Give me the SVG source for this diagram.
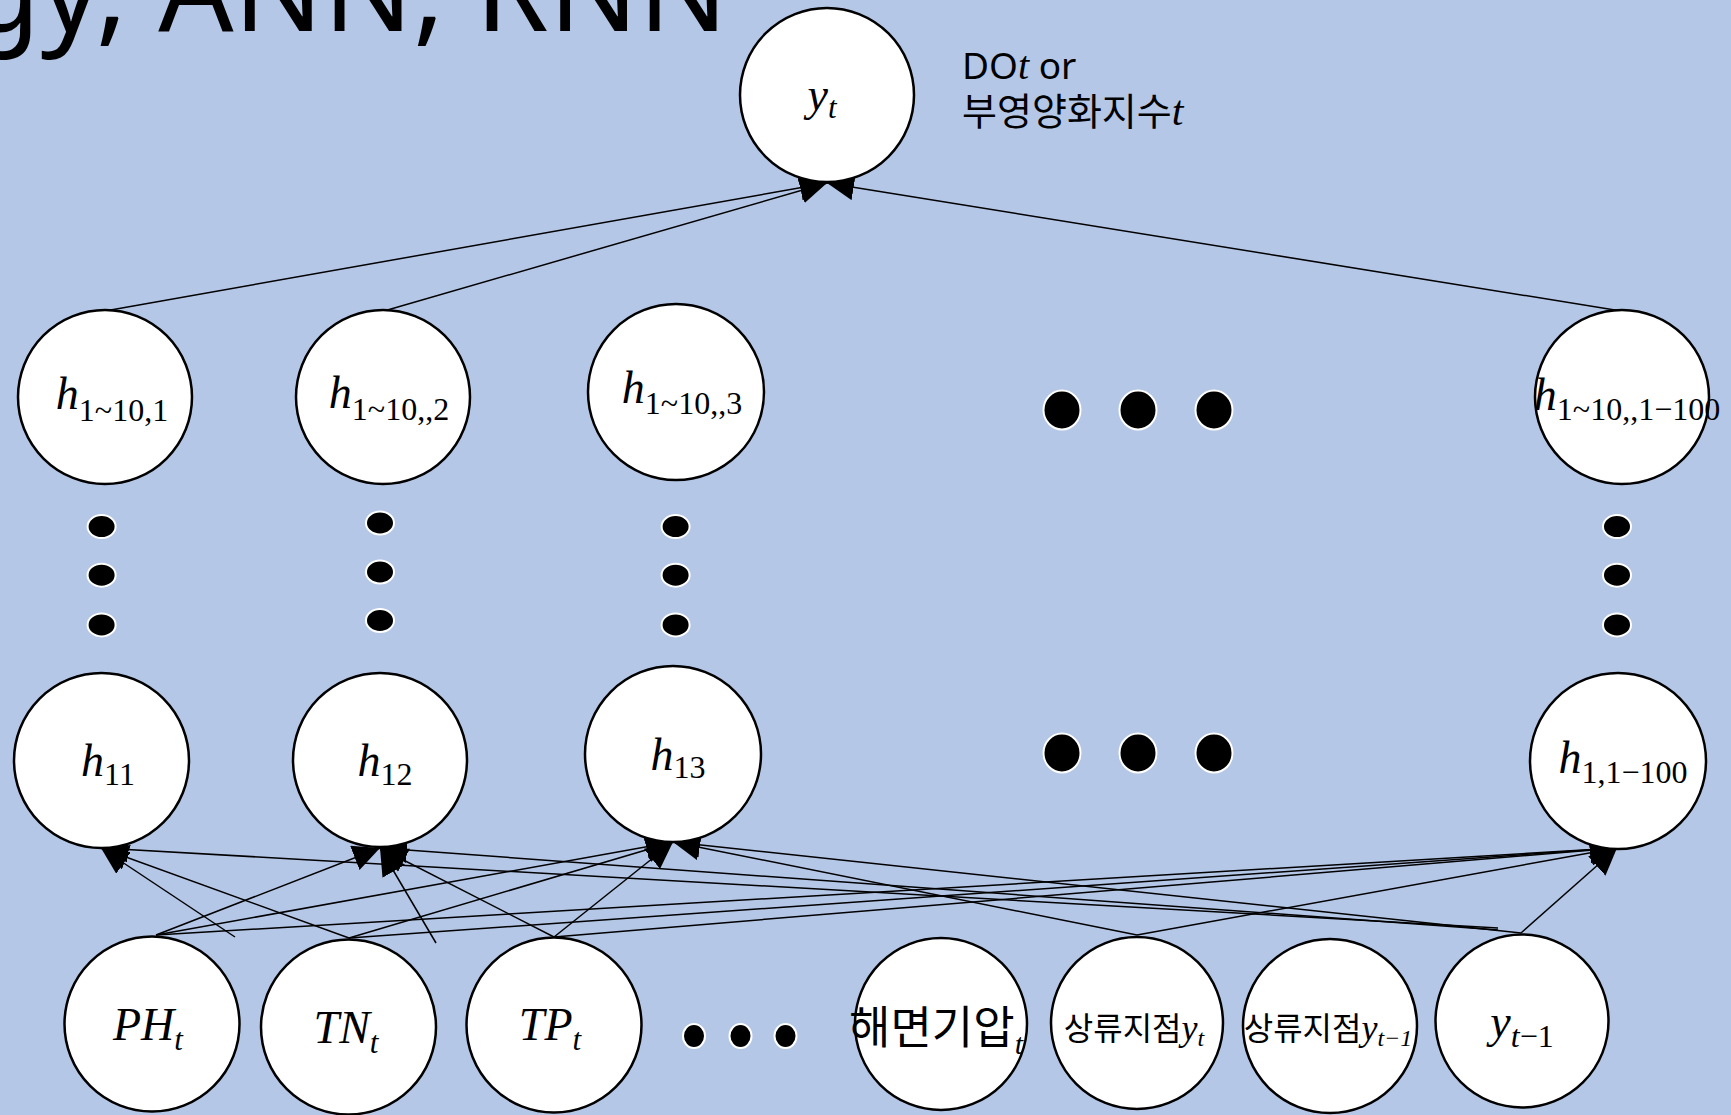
<svg xmlns="http://www.w3.org/2000/svg" width="1731" height="1115" viewBox="0 0 1731 1115">
<defs>
<style>
.node{fill:#fff;stroke:#000;stroke-width:2.5}
.dot{fill:#000;stroke:#fff;stroke-width:2}
.conn line{stroke:#000;stroke-width:1.5;fill:none}
.m{font-family:"Liberation Serif","DejaVu Serif",serif;font-style:italic;font-size:46px;fill:#000}
.sub{font-style:normal;font-size:32px}
.subi{font-size:31px}
.kr{font-family:"Noto Sans CJK KR","Noto Sans",sans-serif;fill:#000}
</style>
<marker id="ah" markerUnits="userSpaceOnUse" markerWidth="27" markerHeight="26" viewBox="0 0 27 26" refX="27" refY="13" orient="auto">
<path d="M0,0 L27,13 L0,26 z" fill="#000"/>
</marker>
</defs>
<rect width="1731" height="1115" fill="#B4C7E7"/>
<text x="728" y="31" text-anchor="end" font-family="Noto Sans, sans-serif" font-size="118" fill="#000">gy, ANN, RNN</text>

<g id="connectors" class="conn">
<line x1="105" y1="311" x2="827" y2="183" marker-end="url(#ah)"/>
<line x1="384" y1="311" x2="827" y2="183" marker-end="url(#ah)"/>
<line x1="1621" y1="311" x2="827" y2="183" marker-end="url(#ah)"/>
<line x1="156" y1="935" x2="380" y2="848" marker-end="url(#ah)"/>
<line x1="156" y1="935" x2="673" y2="842" marker-end="url(#ah)"/>
<line x1="156" y1="935" x2="1617" y2="848" marker-end="url(#ah)"/>
<line x1="349" y1="938" x2="101" y2="848" marker-end="url(#ah)"/>
<line x1="349" y1="938" x2="673" y2="842" marker-end="url(#ah)"/>
<line x1="349" y1="938" x2="1617" y2="848" marker-end="url(#ah)"/>
<line x1="554" y1="937" x2="380" y2="848" marker-end="url(#ah)"/>
<line x1="554" y1="937" x2="673" y2="842" marker-end="url(#ah)"/>
<line x1="554" y1="937" x2="1617" y2="848" marker-end="url(#ah)"/>
<line x1="1137" y1="935" x2="673" y2="842" marker-end="url(#ah)"/>
<line x1="1137" y1="935" x2="1617" y2="848" marker-end="url(#ah)"/>
<line x1="1521" y1="933" x2="673" y2="842" marker-end="url(#ah)"/>
<line x1="1521" y1="933" x2="1617" y2="848" marker-end="url(#ah)"/>
<line x1="1498" y1="928" x2="101" y2="848" marker-end="url(#ah)"/>
<line x1="1498" y1="930" x2="380" y2="848" marker-end="url(#ah)"/>
<line x1="235" y1="937" x2="101" y2="848" marker-end="url(#ah)"/>
<line x1="436" y1="943" x2="380" y2="848" marker-end="url(#ah)"/>
</g>

<g id="out">
<circle class="node" cx="827" cy="95" r="87"/>
<text class="m" x="822" y="110" text-anchor="middle">y<tspan class="subi" dy="8">t</tspan></text>
<text x="962" y="79" font-family="Noto Sans, sans-serif" font-size="37" fill="#000">DO<tspan font-family="Liberation Serif, serif" font-style="italic" font-size="40">t</tspan> or</text>
<text class="kr" x="962" y="125" font-size="38">부영양화지수<tspan font-family="Liberation Serif, serif" font-style="italic" font-size="42">t</tspan></text>
</g>

<g id="h_top1"><circle class="node" cx="105" cy="397" r="87"/>
<text class="m" x="112" y="409" text-anchor="middle">h<tspan class="sub" dy="12">1~10,1</tspan></text></g>
<g id="h_top2"><circle class="node" cx="383" cy="397" r="87"/>
<text class="m" x="389" y="408" text-anchor="middle">h<tspan class="sub" dy="12">1~10,,2</tspan></text></g>
<g id="h_top3"><circle class="node" cx="676" cy="392" r="88"/>
<text class="m" x="682" y="403" text-anchor="middle">h<tspan class="sub" dy="11">1~10,,3</tspan></text></g>
<g id="h_top100"><circle class="node" cx="1622" cy="397" r="87"/>
<text class="m" x="1627" y="410" text-anchor="middle">h<tspan class="sub" dy="10">1~10,,1−100</tspan></text></g>

<g id="h11"><circle class="node" cx="101.5" cy="760.5" r="87.5"/>
<text class="m" x="108" y="776" text-anchor="middle">h<tspan class="sub" dy="9">11</tspan></text></g>
<g id="h12"><circle class="node" cx="380" cy="760" r="87"/>
<text class="m" x="385" y="776" text-anchor="middle">h<tspan class="sub" dy="9">12</tspan></text></g>
<g id="h13"><circle class="node" cx="673" cy="754" r="88"/>
<text class="m" x="678" y="770" text-anchor="middle">h<tspan class="sub" dy="8">13</tspan></text></g>
<g id="h1_100"><circle class="node" cx="1618" cy="761" r="88"/>
<text class="m" x="1623" y="773" text-anchor="middle">h<tspan class="sub" dy="10">1,1−100</tspan></text></g>

<g id="dots">
<ellipse class="dot" cx="101.6" cy="526.6" rx="14" ry="11.5"/>
<ellipse class="dot" cx="101.6" cy="575.2" rx="14" ry="11.5"/>
<ellipse class="dot" cx="101.6" cy="624.9" rx="14" ry="11.5"/>
<ellipse class="dot" cx="380" cy="523" rx="14" ry="11.5"/>
<ellipse class="dot" cx="380" cy="572" rx="14" ry="11.5"/>
<ellipse class="dot" cx="380" cy="620.5" rx="14" ry="11.5"/>
<ellipse class="dot" cx="675.6" cy="526.6" rx="14" ry="11.5"/>
<ellipse class="dot" cx="675.6" cy="575.2" rx="14" ry="11.5"/>
<ellipse class="dot" cx="675.6" cy="624.9" rx="14" ry="11.5"/>
<ellipse class="dot" cx="1617" cy="526.6" rx="14" ry="11.5"/>
<ellipse class="dot" cx="1617" cy="575.2" rx="14" ry="11.5"/>
<ellipse class="dot" cx="1617" cy="624.9" rx="14" ry="11.5"/>
<ellipse class="dot" cx="1062" cy="410" rx="18.5" ry="19.5"/>
<ellipse class="dot" cx="1138" cy="410" rx="18.5" ry="19.5"/>
<ellipse class="dot" cx="1214" cy="410" rx="18.5" ry="19.5"/>
<ellipse class="dot" cx="1062" cy="753" rx="18.5" ry="19.5"/>
<ellipse class="dot" cx="1138" cy="753" rx="18.5" ry="19.5"/>
<ellipse class="dot" cx="1214" cy="753" rx="18.5" ry="19.5"/>
<ellipse class="dot" cx="694" cy="1036" rx="11" ry="12"/>
<ellipse class="dot" cx="740.5" cy="1036" rx="11" ry="12"/>
<ellipse class="dot" cx="785.5" cy="1036" rx="11" ry="12"/>
</g>

<g id="in_PH"><circle class="node" cx="152" cy="1024" r="87.5"/>
<text class="m" x="148" y="1040" text-anchor="middle">PH<tspan class="subi" dy="10">t</tspan></text></g>
<g id="in_TN"><circle class="node" cx="348.5" cy="1027" r="87.5"/>
<text class="m" x="346" y="1043" text-anchor="middle">TN<tspan class="subi" dy="10">t</tspan></text></g>
<g id="in_TP"><circle class="node" cx="554" cy="1025" r="87.5"/>
<text class="m" x="550" y="1040" text-anchor="middle">TP<tspan class="subi" dy="10">t</tspan></text></g>
<g id="in_pressure"><circle class="node" cx="941" cy="1024" r="86"/>
<text class="kr" x="936" y="1044" font-size="45" text-anchor="middle">해면기압<tspan font-family="Liberation Serif, serif" font-style="italic" font-size="30" dy="10">t</tspan></text></g>
<g id="in_up_yt"><circle class="node" cx="1137" cy="1023" r="86"/>
<text class="kr" x="1134" y="1040" font-size="32" text-anchor="middle">상류지점<tspan font-family="Liberation Serif, serif" font-style="italic" font-size="36">y</tspan><tspan font-family="Liberation Serif, serif" font-style="italic" font-size="24" dy="6">t</tspan></text></g>
<g id="in_up_yt1"><circle class="node" cx="1330" cy="1026" r="87"/>
<text class="kr" x="1328" y="1040" font-size="32" text-anchor="middle">상류지점<tspan font-family="Liberation Serif, serif" font-style="italic" font-size="36">y</tspan><tspan font-family="Liberation Serif, serif" font-style="italic" font-size="24" dy="6">t−1</tspan></text></g>
<g id="in_yt1"><circle class="node" cx="1522" cy="1021" r="86.5"/>
<text class="m" x="1522" y="1037" text-anchor="middle" font-size="50">y<tspan class="sub" dy="10"><tspan font-style="italic">t</tspan>−1</tspan></text></g>
</svg>
